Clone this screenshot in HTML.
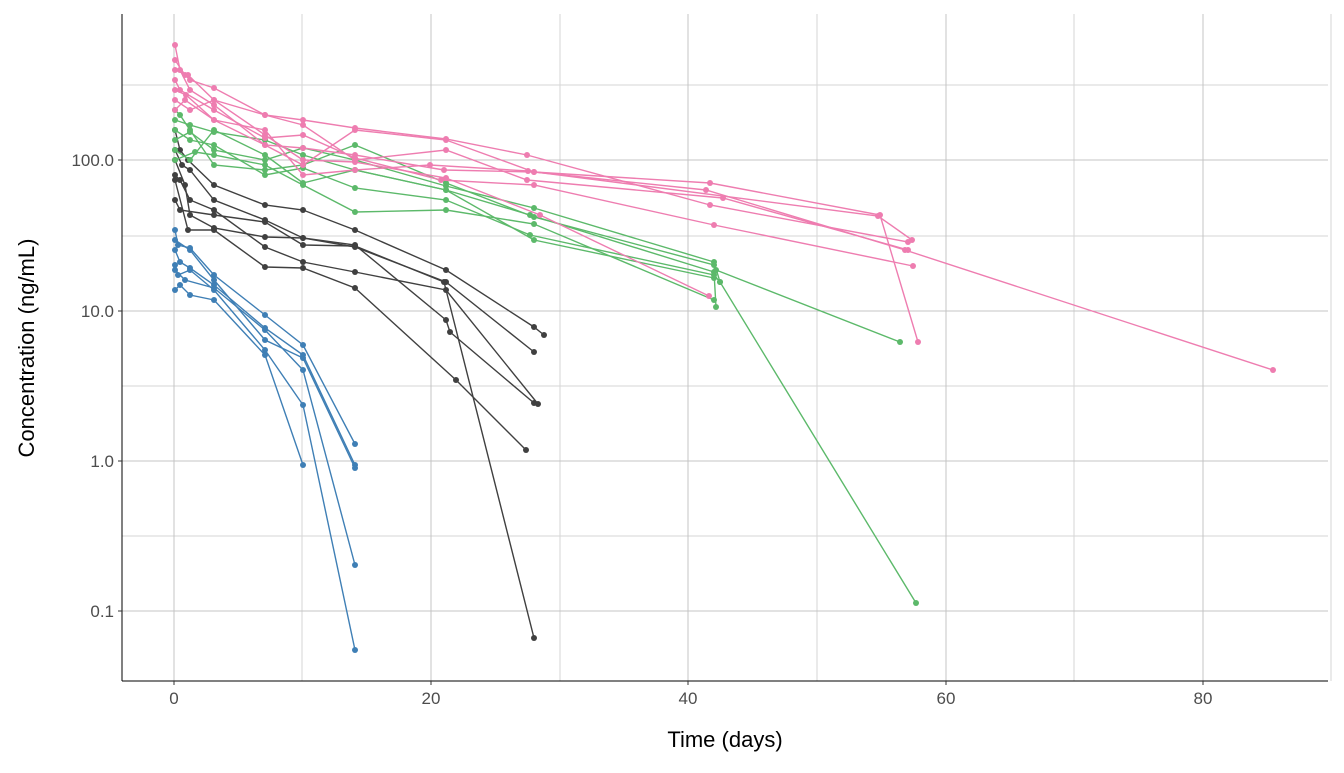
<!DOCTYPE html>
<html><head><meta charset="utf-8"><style>
html,body{margin:0;padding:0;background:#fff}
svg text{font-family:"Liberation Sans",sans-serif}
</style></head><body>
<svg id="s" width="1344" height="768" xmlns="http://www.w3.org/2000/svg">
<g stroke="#d6d6d6" stroke-width="1">
<line x1="122" x2="1328" y1="85" y2="85"/><line x1="122" x2="1328" y1="236" y2="236"/>
<line x1="122" x2="1328" y1="386" y2="386"/><line x1="122" x2="1328" y1="536" y2="536"/>
<line x1="302" x2="302" y1="14" y2="681"/><line x1="560" x2="560" y1="14" y2="681"/>
<line x1="817" x2="817" y1="14" y2="681"/><line x1="1074" x2="1074" y1="14" y2="681"/>
<line x1="1331" x2="1331" y1="14" y2="681"/>
</g>
<g stroke="#c4c4c4" stroke-width="1">
<line x1="122" x2="1328" y1="160" y2="160"/><line x1="122" x2="1328" y1="311" y2="311"/>
<line x1="122" x2="1328" y1="461" y2="461"/><line x1="122" x2="1328" y1="611" y2="611"/>
<line x1="174" x2="174" y1="14" y2="681"/><line x1="431" x2="431" y1="14" y2="681"/>
<line x1="688" x2="688" y1="14" y2="681"/><line x1="946" x2="946" y1="14" y2="681"/>
<line x1="1203" x2="1203" y1="14" y2="681"/>
</g>
<g id="data"></g>
<line x1="122" x2="122" y1="14" y2="681" stroke="#000"/>
<line x1="122" x2="1328" y1="681" y2="681" stroke="#000"/>
<g stroke="#333"><line x1="118" x2="122" y1="160" y2="160"/><line x1="118" x2="122" y1="311" y2="311"/><line x1="118" x2="122" y1="461" y2="461"/><line x1="118" x2="122" y1="611" y2="611"/>
<line x1="174" x2="174" y1="681" y2="685"/><line x1="431" x2="431" y1="681" y2="685"/><line x1="688" x2="688" y1="681" y2="685"/><line x1="946" x2="946" y1="681" y2="685"/><line x1="1203" x2="1203" y1="681" y2="685"/></g>
<g fill="#4d4d4d" font-size="17" text-anchor="end">
<text x="114" y="166">100.0</text><text x="114" y="317">10.0</text><text x="114" y="467">1.0</text><text x="114" y="617">0.1</text></g>
<g fill="#4d4d4d" font-size="17" text-anchor="middle">
<text x="174" y="704">0</text><text x="431" y="704">20</text><text x="688" y="704">40</text><text x="946" y="704">60</text><text x="1203" y="704">80</text></g>
<text x="725" y="747" font-size="22" text-anchor="middle" fill="#000">Time (days)</text>
<text transform="translate(34,348) rotate(-90)" font-size="22" text-anchor="middle" fill="#000">Concentration (ng/mL)</text>
</svg>
<script>
const S={
"#3f7fb5":[
[[175,230],[178,245],[190,248],[214,275],[265,315],[303,345],[355,444]],
[[175,250],[180,262],[190,268],[214,285],[265,328],[303,355],[355,465]],
[[175,265],[178,275],[190,270],[214,290],[265,350],[303,405],[355,650]],
[[175,290],[180,285],[190,295],[214,300],[265,355],[303,465]],
[[175,270],[185,280],[214,288],[265,330],[303,370],[355,565]],
[[175,240],[190,250],[214,280],[265,340],[303,358],[355,468]]],
"#404040":[
[[175,130],[180,150],[188,160],[214,185],[265,205],[303,210],[355,230],[446,270],[534,327],[544,335]],
[[175,150],[182,165],[190,170],[214,200],[265,220],[303,238],[355,247],[446,282],[534,352]],
[[175,160],[185,185],[190,215],[214,228],[265,237],[303,238],[355,245],[446,320],[450,332],[534,403]],
[[175,175],[180,180],[190,200],[214,210],[265,247],[303,262],[355,272],[446,290],[538,404]],
[[175,180],[188,230],[214,230],[265,267],[303,268],[355,288],[456,380],[526,450]],
[[175,200],[180,210],[214,215],[265,222],[303,245],[355,246],[444,282],[534,638]]],
"#5cb96a":[
[[175,110],[180,115],[190,130],[214,165],[265,170],[303,165],[355,145],[446,183],[534,217],[714,265],[716,270],[900,342]],
[[175,120],[190,125],[214,132],[265,140],[303,155],[355,170],[446,190],[530,215],[714,272],[716,307]],
[[175,130],[190,140],[214,145],[265,175],[303,168],[355,188],[446,200],[530,235],[714,275],[720,282]],
[[175,140],[190,132],[214,150],[265,160],[303,148],[355,160],[446,186],[534,208],[714,262],[720,282],[916,603]],
[[175,150],[190,160],[214,130],[265,155],[303,183],[355,170],[446,190],[534,240],[714,278]],
[[175,160],[195,152],[214,155],[265,165],[303,185],[355,212],[446,210],[534,224],[714,300]]],
"#ee7db0":[
[[175,45],[180,70],[190,90],[214,105],[265,145],[303,165],[355,130],[446,140],[534,172],[710,183],[880,215],[918,342]],
[[175,60],[185,75],[190,80],[214,88],[265,115],[303,120],[355,128],[446,139],[527,155],[710,205],[908,242]],
[[175,70],[188,75],[214,100],[265,115],[303,125],[355,160],[446,150],[527,180],[723,198],[908,250]],
[[175,80],[180,90],[214,110],[265,138],[303,135],[355,158],[441,180],[534,185],[714,225],[913,266]],
[[175,90],[186,95],[214,120],[265,145],[303,148],[355,155],[444,170],[534,172],[706,190],[905,250],[1273,370]],
[[175,100],[190,110],[214,100],[265,135],[303,160],[355,162],[446,178],[540,215],[709,296]],
[[175,110],[185,100],[214,120],[265,130],[303,175],[355,170],[430,165],[528,171],[878,216],[912,240]]]};
let h="";
for(const c in S)for(const p of S[c]){
h+=`<polyline fill="none" stroke="${c}" stroke-width="1.4" points="${p.map(q=>q.join(',')).join(' ')}"/>`;
for(const q of p)h+=`<circle cx="${q[0]}" cy="${q[1]}" r="3" fill="${c}"/>`;}
document.getElementById("data").innerHTML=h;
</script>
</body></html>
